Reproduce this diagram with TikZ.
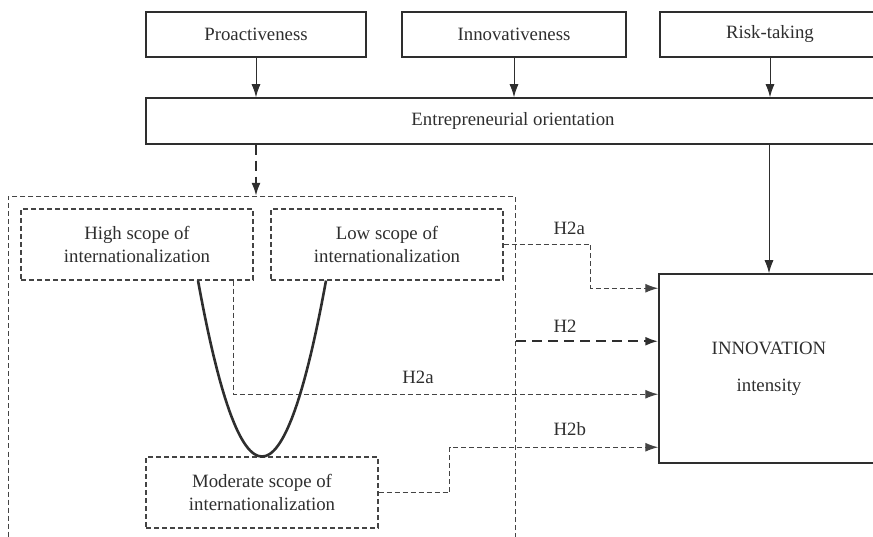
\documentclass[tikz,border=0pt]{standalone}
\usepackage{fontspec}
\setmainfont{Liberation Serif}
\usetikzlibrary{arrows.meta}
\definecolor{ink}{HTML}{2E2E2E}
\definecolor{dashink}{HTML}{444444}

\begin{document}
\begin{tikzpicture}[x=1pt, y=-1pt,
    font=\fontsize{18.8}{23}\selectfont, text=ink,
    box/.style={draw=ink, line width=1.5pt, minimum height=45pt, inner sep=0pt},
    dbox/.style={draw=dashink, line width=1.1pt, dash pattern=on 5pt off 3pt, minimum width=232pt, minimum height=71pt, align=center, inner sep=0pt},
    arr/.style={draw=ink, line width=1pt, -{Latex[length=13pt,width=9pt]}},
    darr/.style={draw=dashink, line width=1.1pt, dash pattern=on 5pt off 3pt, -{Latex[length=13pt,width=9pt]}},
    tarr/.style={draw=ink, line width=2.2pt, dash pattern=on 10pt off 6pt, -{Latex[length=13pt,width=9pt]}}]
        \useasboundingbox (0, 0) rectangle (873, 537);
        \clip (0, 0) rectangle (873, 537);

        \node[box, minimum width=220pt] (pro) at (256, 34.5) {Proactiveness};
        \node[box, minimum width=224pt] (inn) at (514, 34.5) {Innovativeness};
        \node[box, minimum width=220pt] (risk) at (770, 34.5) {Risk-taking};
        \node[box, minimum width=734pt, minimum height=46pt] (eo) at (513, 121) {Entrepreneurial orientation};
        \node[box, minimum width=220pt, minimum height=189pt, align=center] (innov) at (769, 368.5) {INNOVATION\\[14pt]intensity};

        \node[dbox, minimum width=507.5pt, minimum height=370pt] (scope) at (262, 381.5) {};
        \node[dbox] (high) at (137, 244.5) {High scope of\\internationalization};
        \node[dbox] (low) at (387, 244.5) {Low scope of\\internationalization};
        \node[dbox] (mod) at (262, 492.5) {Moderate scope of\\internationalization};

        \node[anchor=west] (h2a) at (550, 228) {H2a};
        \node[anchor=west] (h2) at (550, 326) {H2};
        \node (h2al) at (418, 377) {H2a};
        \node[anchor=west] (h2b) at (550, 429) {H2b};

        \coordinate (ia) at ([yshift=-15pt]innov.north west);
        \coordinate (ib) at ([yshift=-68pt]innov.north west);
        \coordinate (ic) at ([yshift=-121pt]innov.north west);
        \coordinate (id) at ([yshift=-174pt]innov.north west);

        \draw[arr] (pro.south) -- (pro.south |- eo.north);
        \draw[arr] (inn.south) -- (inn.south |- eo.north);
        \draw[arr] (risk.south) -- (risk.south |- eo.north);
        \draw[arr] (innov.north |- eo.south) -- (innov.north);
        \draw[tarr] (pro.south |- eo.south) -- (pro.south |- scope.north);

        \draw[darr] (low.east) -- ++(87, 0) |- (ia);
        \draw[tarr] (scope.east |- ib) -- (ib);
        \draw[darr] ([xshift=-20pt]high.south east) |- (ic);
        \draw[darr] (mod.east) -- ++(71, 0) |- (id);

        \draw[ink, line width=2.6pt] ([xshift=61pt]high.south) .. controls +(42.7, 234.7) and +(-42.7, 234.7) .. ([xshift=-61pt]low.south);

    \end{tikzpicture}
\end{document}
